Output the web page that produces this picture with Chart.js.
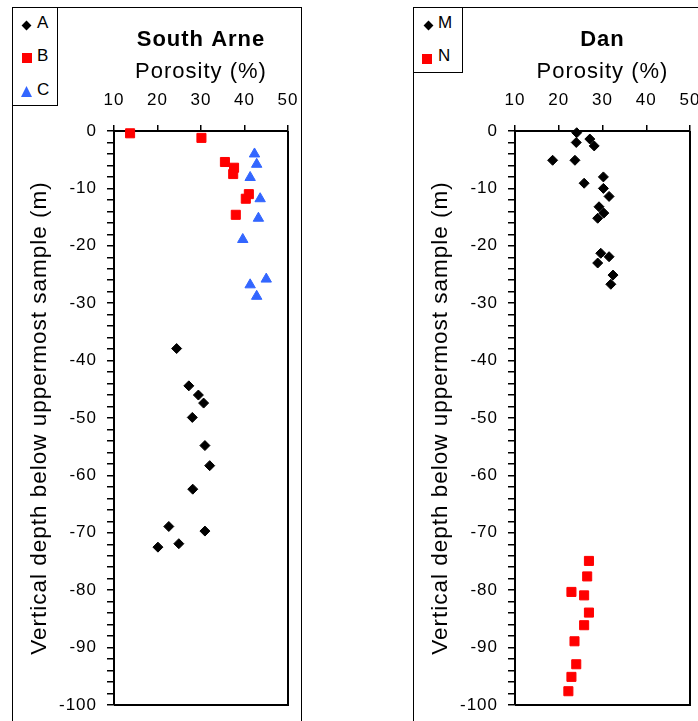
<!DOCTYPE html>
<html>
<head>
<meta charset="utf-8">
<script src="https://cdn.jsdelivr.net/npm/chart.js@4.4.1/dist/chart.umd.min.js"></script>
<style>
  html, body { margin: 0; padding: 0; background: #fff; overflow: hidden; }
  body { width: 698px; height: 721px; position: relative; font-family: "Liberation Sans", Arial, sans-serif; color: #000; }
  .frame { position: absolute; top: 7px; height: 760px; border: 1px solid #000; box-sizing: border-box; }
  .legend { position: absolute; top: 7px; border: 1px solid #000; box-sizing: border-box; background: #fff; }
  canvas { position: absolute; top: 0; }
  .txt { position: absolute; font-size: 17px; line-height: 20px; letter-spacing: 1px; }
  .diamond { position: absolute; width: 7px; height: 7px; background: #000; transform: rotate(45deg); }
  .square { position: absolute; width: 10px; height: 10px; background: #ff0000; }
  .tri { position: absolute; width: 11px; height: 11px; background: #3366ff; clip-path: polygon(50% 0, 100% 100%, 0 100%); }
</style>
</head>
<body>
<div class="frame" style="left:12px; width:290px;"></div>
<div class="frame" style="left:413px; width:400px;"></div>

<canvas id="southArne" width="303" height="721" style="left:0px"></canvas>
<canvas id="dan" width="297" height="721" style="left:401px"></canvas>

<div class="legend" style="left:12px; width:46px; height:99px;"></div>
<span class="diamond" style="left:22.5px; top:21.5px;"></span>
<span class="txt" style="left:37px; top:13px;">A</span>
<span class="square" style="left:21.5px; top:53px;"></span>
<span class="txt" style="left:37px; top:46px;">B</span>
<span class="tri" style="left:21px; top:86px;"></span>
<span class="txt" style="left:37px; top:79.5px;">C</span>

<div class="legend" style="left:413px; width:50px; height:66px;"></div>
<span class="diamond" style="left:424.5px; top:22px;"></span>
<span class="txt" style="left:438px; top:12.5px;">M</span>
<span class="square" style="left:422px; top:53.5px;"></span>
<span class="txt" style="left:438px; top:45.5px;">N</span>

<script>
// South Arne samples: porosity (%) and depth below uppermost sample (m)
const southArneA_porosity = [24.4, 27.2, 29.4, 30.6, 28.0, 30.9, 32.0, 28.1, 22.6, 30.9, 24.9, 20.1];
const southArneA_depth    = [-37.9, -44.4, -46.0, -47.4, -49.9, -54.8, -58.3, -62.4, -68.9, -69.7, -71.9, -72.5];

const southArneB_porosity = [13.7, 30.1, 35.5, 37.6, 37.4, 41.0, 40.3, 38.0];
const southArneB_depth    = [-0.4, -1.2, -5.4, -6.4, -7.5, -11.0, -11.8, -14.6];

const southArneC_porosity = [42.3, 42.8, 41.3, 43.6, 43.2, 39.6, 45.0, 41.3, 42.8];
const southArneC_depth    = [-4.0, -5.8, -8.1, -11.8, -15.2, -18.9, -25.8, -26.8, -28.8];

// Dan samples
const danM_porosity = [24.1, 27.1, 28.1, 24.0, 18.6, 23.7, 30.2, 25.8, 30.2, 31.5, 29.2, 30.3, 28.9, 29.6, 31.5, 28.9, 32.4, 31.9];
const danM_depth    = [-0.3, -1.4, -2.6, -2.0, -5.1, -5.1, -8.0, -9.1, -10.0, -11.4, -13.2, -14.3, -15.2, -21.3, -21.9, -23.0, -25.1, -26.7];

const danN_porosity = [26.9, 26.5, 22.9, 25.8, 26.9, 25.8, 23.6, 24.0, 22.9, 22.2];
const danN_depth    = [-74.9, -77.6, -80.3, -80.9, -83.9, -86.1, -88.9, -92.9, -95.1, -97.6];

const porosityMin = 10, porosityMax = 50, porosityStep = 10;
const depthMin = -100, depthMax = 0, depthMinorStep = 2, depthLabelStep = 10;

const FONT = '"Liberation Sans", Arial, sans-serif';
const BLACK = '#000000', RED = '#ff0000', BLUE = '#3366ff';

const pts = (xs, ys) => xs.map((x, i) => ({ x: x, y: ys[i] }));

function series(label, xs, ys, style, radius, color) {
    return {
        label: label,
        data: pts(xs, ys),
        pointStyle: style,
        pointRadius: radius,
        pointHoverRadius: radius,
        backgroundColor: color,
        borderColor: color,
        borderWidth: 1,
        showLine: false,
        clip: false
    };
}

// the old export had wide text, so space the letters a little
const letterSpacing = {
    id: 'letterSpacing',
    beforeLayout(chart) { chart.ctx.letterSpacing = '1px'; },
    beforeDraw(chart) { chart.ctx.letterSpacing = '1px'; }
};

// closes the plot box on the right and bottom
const plotFrame = {
    id: 'plotFrame',
    afterDatasetsDraw(chart) {
        const { ctx, chartArea: a } = chart;
        ctx.save();
        ctx.strokeStyle = BLACK;
        ctx.lineWidth = 2;
        ctx.beginPath();
        ctx.moveTo(a.right, a.top);
        ctx.lineTo(a.right, a.bottom);
        ctx.lineTo(a.left, a.bottom);
        ctx.stroke();
        ctx.restore();
    }
};

function makePanel(canvasId, title, datasets, rightPad) {
    return new Chart(document.getElementById(canvasId), {
        type: 'scatter',
        data: { datasets: datasets },
        options: {
            responsive: false,
            animation: false,
            devicePixelRatio: 1,
            layout: { padding: { left: 0, top: 0, right: rightPad, bottom: 16 } },
            plugins: {
                legend: { display: false },
                tooltip: { enabled: false },
                title: {
                    display: true,
                    text: title,
                    fullSize: false,
                    color: BLACK,
                    font: { family: FONT, size: 22, weight: 'bold', lineHeight: 1.2 },
                    padding: { top: 26.8, bottom: 0 }
                }
            },
            scales: {
                x: {
                    type: 'linear',
                    position: 'top',
                    min: porosityMin,
                    max: porosityMax,
                    ticks: {
                        stepSize: porosityStep,
                        color: BLACK,
                        padding: 14.8,
                        font: { family: FONT, size: 17, lineHeight: 1.2 }
                    },
                    grid: { drawOnChartArea: false, drawTicks: true, tickLength: 6, color: BLACK, lineWidth: 1.5 },
                    border: { color: BLACK, width: 2 },
                    title: {
                        display: true,
                        text: 'Porosity (%)',
                        color: BLACK,
                        font: { family: FONT, size: 22, lineHeight: 1.2 },
                        padding: { top: 5.6, bottom: 0 }
                    },
                    afterFit(scale) {
                        scale.height = 77.8;
                        scale.paddingLeft = 0;
                        scale.paddingRight = 0;
                    }
                },
                y: {
                    type: 'linear',
                    position: 'left',
                    min: depthMin,
                    max: depthMax,
                    ticks: {
                        stepSize: depthMinorStep,
                        autoSkip: false,
                        maxTicksLimit: 100,
                        color: BLACK,
                        padding: 10,
                        font: { family: FONT, size: 17, lineHeight: 1.2 },
                        callback: v => (v % depthLabelStep === 0 ? String(v) : '')
                    },
                    grid: { drawOnChartArea: false, drawTicks: true, tickLength: 7, color: BLACK, lineWidth: 1.5 },
                    border: { color: BLACK, width: 2 },
                    title: {
                        display: true,
                        text: 'Vertical depth below uppermost sample (m)',
                        color: BLACK,
                        font: { family: FONT, size: 22.5, lineHeight: 1.2 },
                        padding: { top: 26.5, bottom: 0 }
                    },
                    afterFit(scale) {
                        scale.width = 114;
                        scale.paddingTop = 0;
                        scale.paddingBottom = 0;
                    }
                }
            }
        },
        plugins: [letterSpacing, plotFrame]
    });
}

makePanel('southArne', 'South Arne', [
    series('A', southArneA_porosity, southArneA_depth, 'rectRot', 5, BLACK),
    series('B', southArneB_porosity, southArneB_depth, 'rect', 6.4, RED),
    series('C', southArneC_porosity, southArneC_depth, 'triangle', 6, BLUE)
], 15);

makePanel('dan', 'Dan', [
    series('M', danM_porosity, danM_depth, 'rectRot', 5, BLACK),
    series('N', danN_porosity, danN_depth, 'rect', 6.4, RED)
], 8);
</script>
</body>
</html>
